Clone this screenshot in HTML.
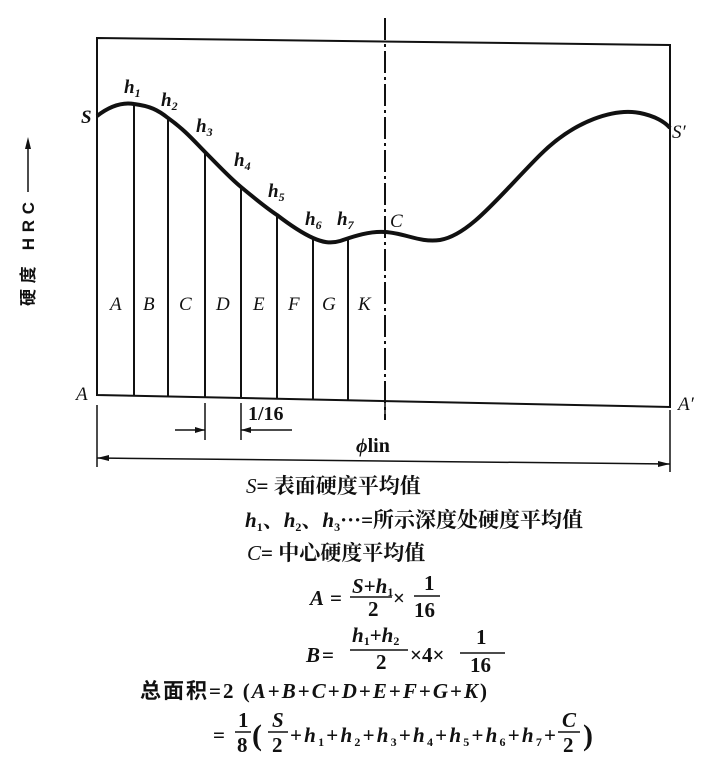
<!DOCTYPE html>
<html><head><meta charset="utf-8"><style>
body{margin:0;background:#fff;}
svg{display:block}
.i{font-family:"Liberation Serif",serif;font-style:italic;}
.c{font-family:"Liberation Serif","Noto Serif CJK SC",serif;font-weight:bold;}
</style></head><body>
<svg width="714" height="763" viewBox="0 0 714 763" xmlns="http://www.w3.org/2000/svg">
<g stroke="#111" fill="none" stroke-width="2">
<path d="M97 38 L670 45 L670 407 L97 395 Z"/>
<path d="M385 18 V420" stroke-dasharray="22,4,3,4"/>
<path d="M134 104V396 M168 118V397 M205 152V397 M241 187V398 M277 215V399 M313 238V399 M348 238V400"/>
<path d="M97 116 C110 106,122 102,134 104 C150 106,158 110,168 118 C185 130,195 142,205 152 C218 165,230 178,241 187 C253 197,265 207,277 215 C290 225,302 233,313 238 C322 242,330 244,340 241 C352 237,368 231,385 232 C405 233,420 243,440 240 C470 235,500 195,540 155 C575 120,615 108,640 113 C655 116,665 122,670 128" stroke-width="4"/>
<path d="M205 403V440 M241 403V440 M385 400V420 M97 405V467 M670 410V472" stroke-width="1.5"/>
<path d="M175 430H205 M241 430H292 M97 458L670 464" stroke-width="1.5"/>
<path d="M28 192V146" stroke-width="1.5"/>
</g>
<g fill="#111">
<path d="M205 430l-10-3v6z M241 430l10-3v6z M97 458l12-3v6z M670 464l-12-3v6z M28 137l-3 12h6z"/>
</g>
<g class="i" font-size="19" fill="#111" font-weight="bold">
<text x="81" y="123">S</text>
<text x="124" y="93">h<tspan font-size="12" dy="4">1</tspan></text>
<text x="161" y="106">h<tspan font-size="12" dy="4">2</tspan></text>
<text x="196" y="132">h<tspan font-size="12" dy="4">3</tspan></text>
<text x="234" y="166">h<tspan font-size="12" dy="4">4</tspan></text>
<text x="268" y="197">h<tspan font-size="12" dy="4">5</tspan></text>
<text x="305" y="225">h<tspan font-size="12" dy="4">6</tspan></text>
<text x="337" y="225">h<tspan font-size="12" dy="4">7</tspan></text>
<text x="390" y="227" font-weight="normal">C</text>
<text x="672" y="138" font-weight="normal">S′</text>
<text x="76" y="400" font-weight="normal">A</text>
<text x="678" y="410" font-weight="normal">A′</text>
<g font-weight="normal">
<text x="110" y="310">A</text><text x="143" y="310">B</text><text x="179" y="310">C</text>
<text x="216" y="310">D</text><text x="253" y="310">E</text><text x="288" y="310">F</text>
<text x="322" y="310">G</text><text x="358" y="310">K</text>
</g>
</g>
<text x="248" y="420" font-family="Liberation Serif,serif" font-size="20" font-weight="bold" fill="#111">1/16</text>
<text x="356" y="452" font-family="Liberation Serif,serif" font-size="20" font-weight="bold" fill="#111"><tspan font-style="italic">ϕ</tspan>lin</text>
<text transform="translate(34,306) rotate(-90)" font-family="Liberation Sans,Noto Sans CJK SC,sans-serif" font-size="17" font-weight="bold" fill="#111" textLength="104">硬度 HRC</text>
<g class="c" font-size="21" fill="#111">
<text x="246" y="493"><tspan class="i" font-weight="normal">S</tspan>= 表面硬度平均值</text>
<text x="245" y="527"><tspan class="i">h</tspan><tspan font-size="12" dy="4">1</tspan><tspan dy="-4">、</tspan><tspan class="i">h</tspan><tspan font-size="12" dy="4">2</tspan><tspan dy="-4">、</tspan><tspan class="i">h</tspan><tspan font-size="12" dy="4">3</tspan><tspan dy="-4">···=所示深度处硬度平均值</tspan></text>
<text x="247" y="560"><tspan class="i" font-weight="normal">C</tspan>= 中心硬度平均值</text>
</g>
<g font-family="Liberation Serif,serif" font-size="21" fill="#111" font-weight="bold">
<text x="310" y="605" class="i">A</text><text x="330" y="605">=</text>
<text x="352" y="593"><tspan class="i">S</tspan>+<tspan class="i">h</tspan><tspan font-size="12" dy="3">1</tspan></text>
<line x1="350" y1="597" x2="392" y2="597" stroke="#111" stroke-width="1.5"/>
<text x="368" y="616">2</text><text x="393" y="605">×</text>
<text x="424" y="590">1</text><line x1="414" y1="596" x2="440" y2="596" stroke="#111" stroke-width="1.5"/>
<text x="414" y="617">16</text>
<text x="306" y="662" class="i">B</text><text x="322" y="662">=</text>
<text x="352" y="642"><tspan class="i">h</tspan><tspan font-size="12" dy="3">1</tspan><tspan dy="-3">+</tspan><tspan class="i">h</tspan><tspan font-size="12" dy="3">2</tspan></text>
<line x1="350" y1="650" x2="408" y2="650" stroke="#111" stroke-width="1.5"/>
<text x="376" y="669">2</text><text x="410" y="662">×4×</text>
<text x="476" y="644">1</text><line x1="460" y1="653" x2="505" y2="653" stroke="#111" stroke-width="1.5"/>
<text x="470" y="672">16</text>
<text x="140" y="698" textLength="347" lengthAdjust="spacing"><tspan font-family="Noto Sans CJK SC,sans-serif" font-weight="bold">总面积</tspan>=2 (<tspan class="i">A</tspan>+<tspan class="i">B</tspan>+<tspan class="i">C</tspan>+<tspan class="i">D</tspan>+<tspan class="i">E</tspan>+<tspan class="i">F</tspan>+<tspan class="i">G</tspan>+<tspan class="i">K</tspan>)</text>
<text x="213" y="742">=</text>
<text x="238" y="727">1</text><line x1="235" y1="732" x2="251" y2="732" stroke="#111" stroke-width="1.5"/>
<text x="237" y="752">8</text>
<text x="252" y="745" font-size="30">(</text>
<text x="272" y="727" class="i">S</text><line x1="268" y1="732" x2="288" y2="732" stroke="#111" stroke-width="1.5"/>
<text x="272" y="752">2</text>
<text x="290" y="742" textLength="266" lengthAdjust="spacing">+<tspan class="i">h</tspan><tspan font-size="12" dy="4">1</tspan><tspan dy="-4">+</tspan><tspan class="i">h</tspan><tspan font-size="12" dy="4">2</tspan><tspan dy="-4">+</tspan><tspan class="i">h</tspan><tspan font-size="12" dy="4">3</tspan><tspan dy="-4">+</tspan><tspan class="i">h</tspan><tspan font-size="12" dy="4">4</tspan><tspan dy="-4">+</tspan><tspan class="i">h</tspan><tspan font-size="12" dy="4">5</tspan><tspan dy="-4">+</tspan><tspan class="i">h</tspan><tspan font-size="12" dy="4">6</tspan><tspan dy="-4">+</tspan><tspan class="i">h</tspan><tspan font-size="12" dy="4">7</tspan><tspan dy="-4">+</tspan></text>
<text x="562" y="727" class="i">C</text><line x1="558" y1="732" x2="580" y2="732" stroke="#111" stroke-width="1.5"/>
<text x="563" y="752">2</text>
<text x="583" y="745" font-size="30">)</text>
</g>
</svg>
</body></html>
